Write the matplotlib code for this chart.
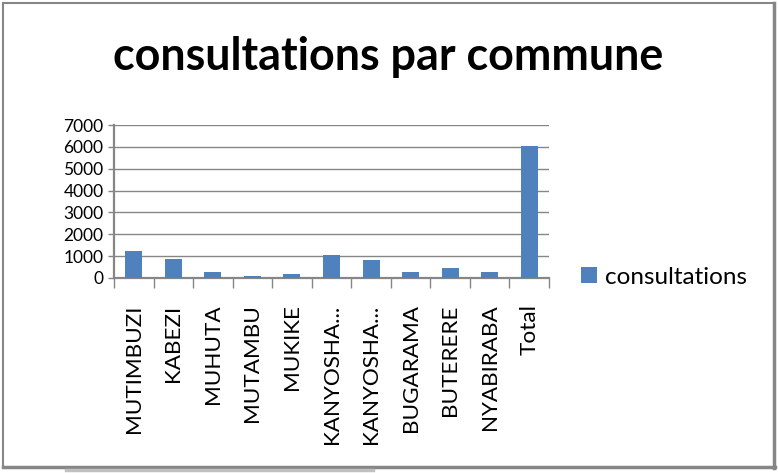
import numpy as np
import matplotlib.pyplot as plt
from matplotlib.lines import Line2D

communes = ['MUTIMBUZI', 'KABEZI', 'MUHUTA', 'MUTAMBU', 'MUKIKE', 'KANYOSHA...',
            'KANYOSHA...', 'BUGARAMA', 'BUTERERE', 'NYABIRABA', 'Total']
consultations = [1250, 885, 290, 105, 200, 1065, 835, 290, 470, 290, 6040]
yticks = [0, 1000, 2000, 3000, 4000, 5000, 6000, 7000]

bar_col = '#4F81BD'
grid_col = '#868686'
plt.rcParams['font.family'] = ['Lato', 'DejaVu Sans']

fig = plt.figure(figsize=(7.78, 4.73), dpi=100)
ax = fig.add_axes([114/778, 1 - 278/473, (549 - 114)/778, (278 - 125)/473])

x = np.arange(len(communes))
ax.bar(x, consultations, width=0.43, color=bar_col, zorder=3, label='consultations')

ax.set_xlim(-0.5, len(communes) - 0.5)
ax.set_ylim(0, 7000)
ax.set_yticks(yticks)
ax.set_yticklabels([str(v) for v in yticks], fontsize=12.5)
ax.yaxis.grid(True, color=grid_col, linewidth=1.0, zorder=0)

ax.set_xticks(x)
ax.set_xticklabels(communes, rotation=90, fontsize=16.2, va='top')
ax.tick_params(axis='x', which='major', length=0, pad=19)
ax.set_xticks(np.arange(-0.5, len(communes), 1), minor=True)
ax.tick_params(axis='x', which='minor', length=7.5, width=1.0, color=grid_col)
ax.tick_params(axis='y', length=4.5, width=1.0, color=grid_col, pad=3)

for s in ['top', 'right']:
    ax.spines[s].set_visible(False)
for s in ['left', 'bottom']:
    ax.spines[s].set_color(grid_col)
    ax.spines[s].set_linewidth(1.6)

fig.text(388/778, 1 - 57/473, 'consultations par commune', ha='center', va='center',
         fontsize=32.3, fontweight='bold')

ax.legend(loc='center left', bbox_to_anchor=((581 - 114)/435, 1/153), frameon=False,
          fontsize=17.5, handlelength=0.65, handleheight=0.65, handletextpad=0.35,
          borderpad=0, borderaxespad=0)

# chart frame with shadow
def fl(x0, y0, x1, y1, lw, c):
    fig.add_artist(Line2D([x0/778, x1/778], [1 - y0/473, 1 - y1/473], lw=lw, color=c))

fl(3, 3, 774, 3, 1.5, '#868686')
fl(3, 3, 3, 467, 1.5, '#868686')
fl(774, 3, 774, 468, 2.5, '#868686')
fl(3, 467, 775, 467, 2.5, '#868686')
fl(66, 470, 373, 470, 2.5, '#c0c0c0')

fig.savefig('out.png', dpi=100)
